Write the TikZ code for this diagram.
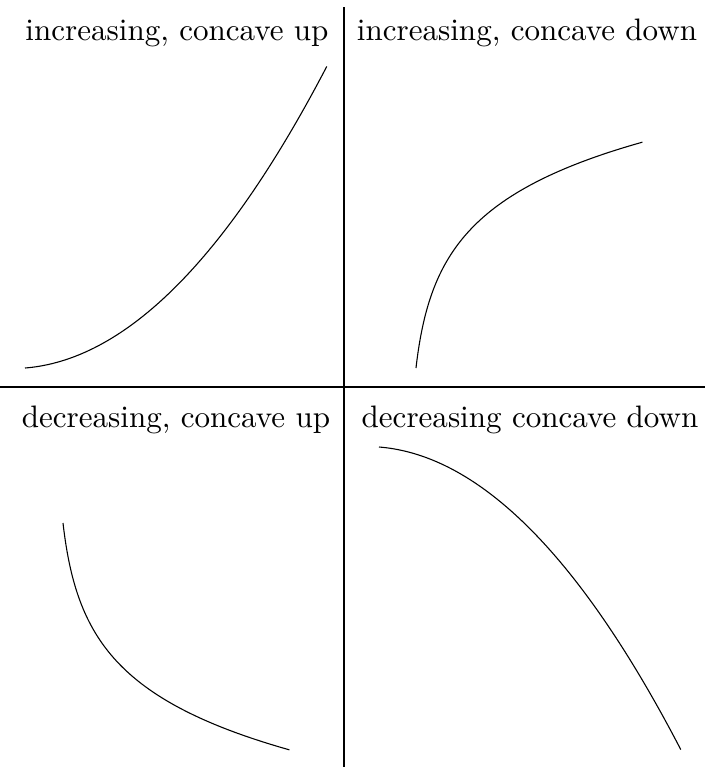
\documentclass[tikz,border=0pt]{standalone}
\usetikzlibrary{positioning}

\tikzset{
  caselabel/.style={anchor=base,inner sep=0pt},
  graphline/.style={line width=0.35pt,black},
  axisline/.style={line width=0.4pt,black}
}

\begin{document}
\begin{tikzpicture}[x=0.322pt,y=-0.322pt]
      \useasboundingbox (0,0) rectangle (705,767);
      % quadrant dividers
      \coordinate (vtop) at (344,7);
      \coordinate (vbot) at (344,767);
      \coordinate (hleft) at (0,387);
      \coordinate (hright) at (705,387);
      \draw[axisline] (vtop)--(vbot);
      \draw[axisline] (hleft)--(hright);
      % labels
      \node[caselabel] (incup) at (177,40) {increasing, concave up};
      \node[caselabel] (incdown) at (527,40) {increasing, concave down};
      \node[caselabel] (decup) at (176,427) {decreasing, concave up};
      \node[caselabel] (decdown) at (530,427) {decreasing concave down};
      % curves (parameter runs 0..1)
      \draw[graphline] plot[domain=0:1,samples=80]
            ({25+302*\x},{368-302*(0.92*\x*\x+0.08*\x)});
      \draw[graphline] plot[domain=0:1,samples=80]
            ({416+227*(31^\x-1)/30},{368-226*\x});
      \draw[graphline] plot[domain=0:1,samples=80]
            ({63+227*(31^\x-1)/30},{523+227*\x});
      \draw[graphline] plot[domain=0:1,samples=80]
            ({379+302*\x},{447+303*(0.92*\x*\x+0.08*\x)});
    \end{tikzpicture}
\end{document}
